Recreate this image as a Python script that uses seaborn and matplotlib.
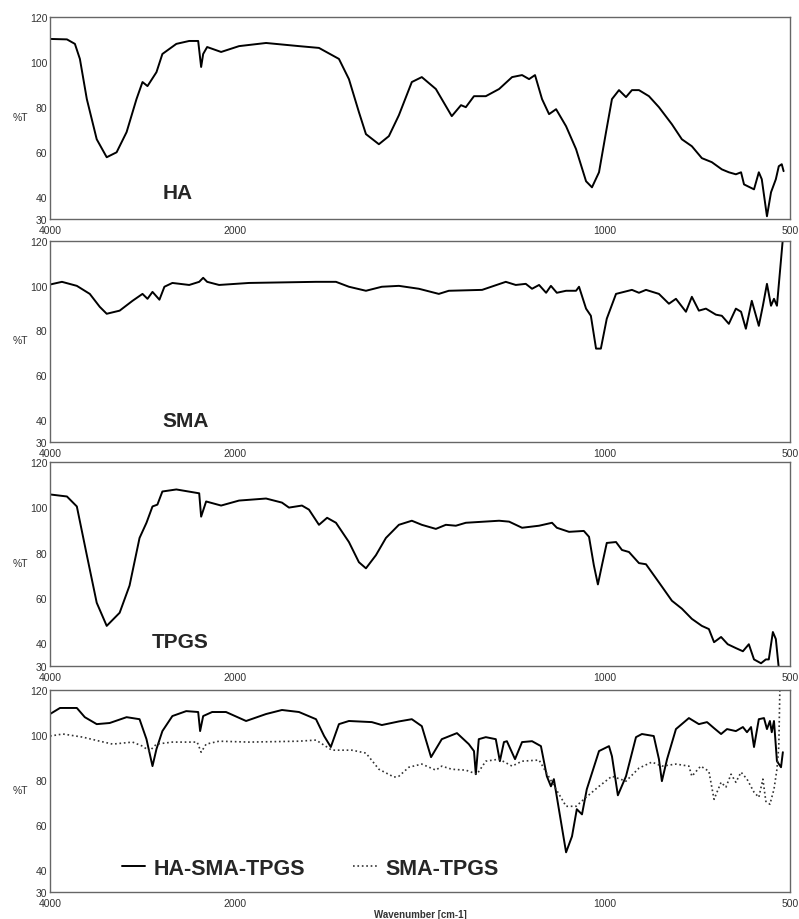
import numpy as np
import matplotlib
matplotlib.use('Agg')
import matplotlib.pyplot as plt
import seaborn as sns

sns.set_style('white')
plt.rcParams['font.family'] = ['Liberation Sans', 'DejaVu Sans']

# FTIR spectra (wavenumber cm-1, %T)
ha_wn = [4000, 3817, 3731, 3677, 3602, 3495, 3387, 3280, 3172, 3065, 3000, 2946, 2849, 2785, 2634,
         2495, 2398, 2366, 2344, 2301, 2150, 1989, 1916, 1827, 1773, 1719, 1692, 1665, 1646, 1611,
         1584, 1557, 1522, 1495, 1457, 1414, 1389, 1376, 1354, 1322, 1286, 1251, 1224, 1205, 1189,
         1170, 1151, 1132, 1105, 1078, 1051, 1035, 1016, 997, 981, 962, 943, 927, 908, 881,
         854, 819, 792, 765, 738, 711, 684, 665, 646, 632, 624, 597, 584, 576, 562,
         551, 538, 530, 522, 517]
ha_t = [110.2, 110, 108, 101.3, 83.4, 65.5, 57.5, 59.7, 68.7, 83.4, 91, 89.2, 95.4, 103.5, 108,
        109.3, 109.3, 97.7, 103.5, 106.6, 104.4, 107, 108.4, 107, 106.2, 101.3, 92.3, 77.6, 67.8, 63.3,
        66.9, 76.2, 91, 93.2, 87.9, 75.8, 80.7, 79.8, 84.7, 84.7, 87.9, 93.2, 94.1, 92.3, 94.1,
        83.4, 76.7, 78.9, 71.3, 61.1, 46.8, 44.1, 50.8, 68.7, 83.4, 87.4, 84.3, 87.4, 87.4, 84.7,
        79.8, 72.2, 65.5, 62.4, 57.1, 55.3, 52.1, 50.8, 49.9, 50.8, 45.4, 43.2, 50.8, 47.7, 31.2,
        41.9, 47.7, 53.5, 54.4, 51.3]

sma_wn = [4000, 3871, 3710, 3570, 3462, 3387, 3247, 3108, 3000, 2946, 2892, 2817, 2763, 2677, 2495,
          2387, 2344, 2301, 2172, 1962, 1781, 1727, 1692, 1646, 1603, 1557, 1503, 1449, 1422, 1332,
          1268, 1241, 1214, 1197, 1178, 1159, 1146, 1130, 1105, 1078, 1070, 1051, 1038, 1024, 1011,
          995, 970, 927, 908, 889, 854, 827, 808, 781, 765, 746, 727, 700, 684, 665,
          646, 632, 619, 603, 584, 573, 562, 551, 543, 535, 519]
sma_t = [100.5, 101.7, 99.9, 96.3, 90.5, 87.4, 88.8, 93.2, 96.3, 94.1, 97.2, 93.7, 99.5, 101.2, 100.3,
         101.7, 103.5, 101.7, 100.3, 101.2, 101.7, 101.7, 99.5, 97.7, 99.5, 99.9, 98.6, 96.3, 97.7, 98.1,
         101.7, 100.3, 100.8, 98.6, 100.3, 96.8, 99.9, 96.8, 97.7, 97.7, 99.5, 89.7, 86.5, 71.8, 71.8,
         85.2, 96.3, 98.1, 96.8, 98.1, 96.3, 91.9, 94.1, 88.3, 95, 88.8, 89.7, 87, 86.5, 82.9,
         89.7, 88.3, 80.7, 93.2, 82, 91, 100.8, 91, 94.1, 91, 121]

tpgs_wn = [4000, 3817, 3710, 3602, 3495, 3387, 3247, 3140, 3032, 2957, 2892, 2839, 2785, 2634, 2387,
           2366, 2312, 2150, 1989, 1916, 1873, 1854, 1819, 1800, 1773, 1751, 1727, 1692, 1665, 1646,
           1619, 1592, 1557, 1522, 1495, 1457, 1430, 1403, 1376, 1286, 1259, 1224, 1178, 1143, 1130,
           1097, 1057, 1043, 1030, 1019, 1008, 995, 970, 954, 935, 908, 889, 854, 819, 792,
           765, 738, 719, 705, 686, 668, 646, 627, 611, 597, 578, 565, 557, 546, 538, 530]
tpgs_t = [105.7, 104.8, 100.4, 78.9, 57.9, 47.7, 53.5, 65.5, 86.5, 93.2, 100.4, 101.2, 107, 107.9, 106.2,
          95.9, 102.6, 100.8, 103, 103.9, 102.1, 99.9, 100.8, 99, 92.3, 95.4, 93.2, 84.7, 75.8, 73.1,
          78.9, 86.5, 92.3, 94.1, 92.3, 90.5, 92.3, 91.9, 93.2, 94.1, 93.7, 91, 91.9, 93.2, 91,
          89.2, 89.6, 87, 74.5, 66, 74.5, 84.3, 84.7, 81.2, 80.3, 75.4, 74.9, 66.9, 58.8, 55.3,
          50.8, 47.7, 46.3, 40.5, 42.8, 39.6, 37.9, 36.5, 39.6, 32.9, 31.2, 32.9, 32.9, 45, 41.9, 29]

mix_wn = [4000, 3892, 3710, 3624, 3495, 3355, 3172, 3032, 2957, 2892, 2849, 2785, 2677, 2527, 2398,
          2377, 2344, 2247, 2097, 1970, 1916, 1873, 1827, 1781, 1759, 1741, 1719, 1692, 1630, 1603,
          1557, 1522, 1495, 1470, 1441, 1400, 1368, 1354, 1349, 1341, 1322, 1295, 1284, 1273, 1265,
          1243, 1224, 1197, 1173, 1157, 1146, 1138, 1105, 1089, 1076, 1062, 1049, 1016, 989, 981,
          965, 943, 916, 900, 868, 854, 846, 832, 808, 773, 746, 724, 705, 686, 670,
          646, 627, 616, 605, 597, 584, 570, 562, 554, 549, 543, 535, 524, 519]
mix_t = [109.3, 112, 112, 107.9, 104.8, 105.3, 107.9, 107, 98.1, 86.1, 93.7, 101.7, 108.4, 110.6, 110.2,
         101.7, 108.4, 110.2, 110.2, 106.2, 109.3, 111.1, 110.2, 107, 99.5, 94.6, 104.8, 106.2, 105.7, 104.4,
         106, 107, 103.9, 90.1, 98.1, 100.8, 95.9, 92.8, 82.5, 98.1, 99, 98.1, 88.3, 96.8, 97.2,
         89.2, 96.8, 97.2, 95, 81.6, 77.1, 80.3, 47.7, 54.8, 66.9, 64.6, 75.8, 92.8, 95, 90.5,
         73.1, 81.6, 99, 100.4, 99.5, 89.2, 79.4, 89.2, 102.6, 107.5, 104.8, 105.7, 103, 100.4, 102.6,
         101.7, 103.5, 101.2, 103.5, 94.6, 107, 107.5, 102.6, 106.2, 101.2, 106.2, 88.3, 85.6, 92.3]

smatpgs_wn = [4000, 3860, 3645, 3462, 3323, 3108, 3000, 2925, 2849, 2677, 2409, 2366, 2312, 2172, 1962,
              1827, 1781, 1738, 1684, 1646, 1611, 1570, 1557, 1530, 1495, 1457, 1441, 1414, 1376, 1346,
              1322, 1286, 1251, 1224, 1178, 1159, 1132, 1105, 1078, 1051, 1016, 981, 943, 908, 873,
              846, 808, 773, 765, 741, 719, 705, 686, 673, 659, 646, 632, 616, 597, 584,
              573, 565, 554, 543, 535, 530, 527]
smatpgs_t = [99.5, 100.4, 99, 97.2, 95.9, 96.8, 95, 92.8, 95.9, 96.8, 96.8, 92.3, 95.9, 97.2, 96.8,
             97.2, 97.7, 93.2, 93.2, 91.9, 84.7, 81.2, 81.6, 85.6, 87, 84.3, 86.1, 84.7, 84.3, 82.5,
             88.3, 89.2, 86.1, 88.3, 88.8, 83.4, 75.8, 68.2, 68.2, 72.2, 77.1, 81.6, 79.4, 85.2, 87.9,
             86.1, 87, 86.1, 81.6, 86.1, 83.8, 71.3, 78.9, 76.7, 82.5, 78.9, 83.4, 80.3, 74.5, 72.2,
             80.3, 70.4, 69.1, 75.8, 84.7, 95, 121]

x_major = [4000, 2000, 1000, 500]
x_minor = [3000, 1500]
y_major = [30, 40, 60, 80, 100, 120]
y_minor = [50, 70, 90, 110]


# instrument axis: 4000-2000 compressed 4x relative to 2000-500
def fwd(x):
    x = np.asarray(x, dtype=float)
    return np.where(x <= 2000, x - 500, 1500 + (x - 2000) / 4)


def inv(u):
    u = np.asarray(u, dtype=float)
    return np.where(u <= 1500, u + 500, 2000 + (u - 1500) * 4)


fig = plt.figure(figsize=(7.99, 9.2), dpi=100)
boxes = [(0.0626, 0.7609, 0.926, 0.2196),
         (0.0626, 0.5185, 0.926, 0.2185),
         (0.0626, 0.2750, 0.926, 0.2217),
         (0.0626, 0.0293, 0.926, 0.2196)]
axes = [fig.add_axes(b) for b in boxes]


def style(ax):
    ax.set_xscale('function', functions=(fwd, inv))
    ax.set_xlim(4000, 500)
    ax.set_ylim(30, 120)
    ax.set_xticks(x_major)
    ax.set_xticklabels([str(v) for v in x_major])
    ax.set_xticks(x_minor, minor=True)
    ax.set_xticklabels([], minor=True)
    ax.set_yticks(y_major)
    ax.set_yticklabels([str(v) for v in y_major])
    ax.set_yticks(y_minor, minor=True)
    ax.tick_params(which='both', direction='in', color='#555', width=0.8,
                   labelsize=7.5, labelcolor='#333')
    ax.tick_params(axis='y', pad=2)
    ax.tick_params(axis='x', pad=4)
    ax.tick_params(which='major', length=6)
    ax.tick_params(which='minor', length=3)
    for s in ax.spines.values():
        s.set_color('#666')
        s.set_linewidth(1)
    ax.set_xlabel('')
    ax.set_ylabel('%T', rotation=0, fontsize=7.5, color='#333')
    ax.yaxis.set_label_coords(-0.04, 0.48)


panels = [(ha_wn, ha_t, 'HA', 0.172, 0.133),
          (sma_wn, sma_t, 'SMA', 0.183, 0.107),
          (tpgs_wn, tpgs_t, 'TPGS', 0.176, 0.122)]
for ax, (wn, t, name, tx, ty) in zip(axes[:3], panels):
    sns.lineplot(x=wn, y=t, ax=ax, color='black', lw=1.4, sort=False, estimator=None)
    style(ax)
    ax.text(tx, ty, name, transform=ax.transAxes, ha='center', va='center',
            fontsize=15, fontweight='bold')

ax = axes[3]
sns.lineplot(x=mix_wn, y=mix_t, ax=ax, color='black', lw=1.4, sort=False,
             estimator=None, label='HA-SMA-TPGS')
sns.lineplot(x=smatpgs_wn, y=smatpgs_t, ax=ax, color='#333', lw=1.2, ls=':',
             sort=False, estimator=None, label='SMA-TPGS')
style(ax)
ax.legend(loc='lower left', bbox_to_anchor=(0.097, 0.065), ncol=2, frameon=False,
          prop={'size': 15.5, 'weight': 'bold'}, handlelength=1.1, handletextpad=0.4,
          columnspacing=2.2, borderpad=0, borderaxespad=0)
ax.set_xlabel('Wavenumber [cm-1]', fontsize=7, fontweight='bold', color='#333')
ax.xaxis.set_label_coords(0.5, -0.085)

fig.savefig('out.png', dpi=100)
